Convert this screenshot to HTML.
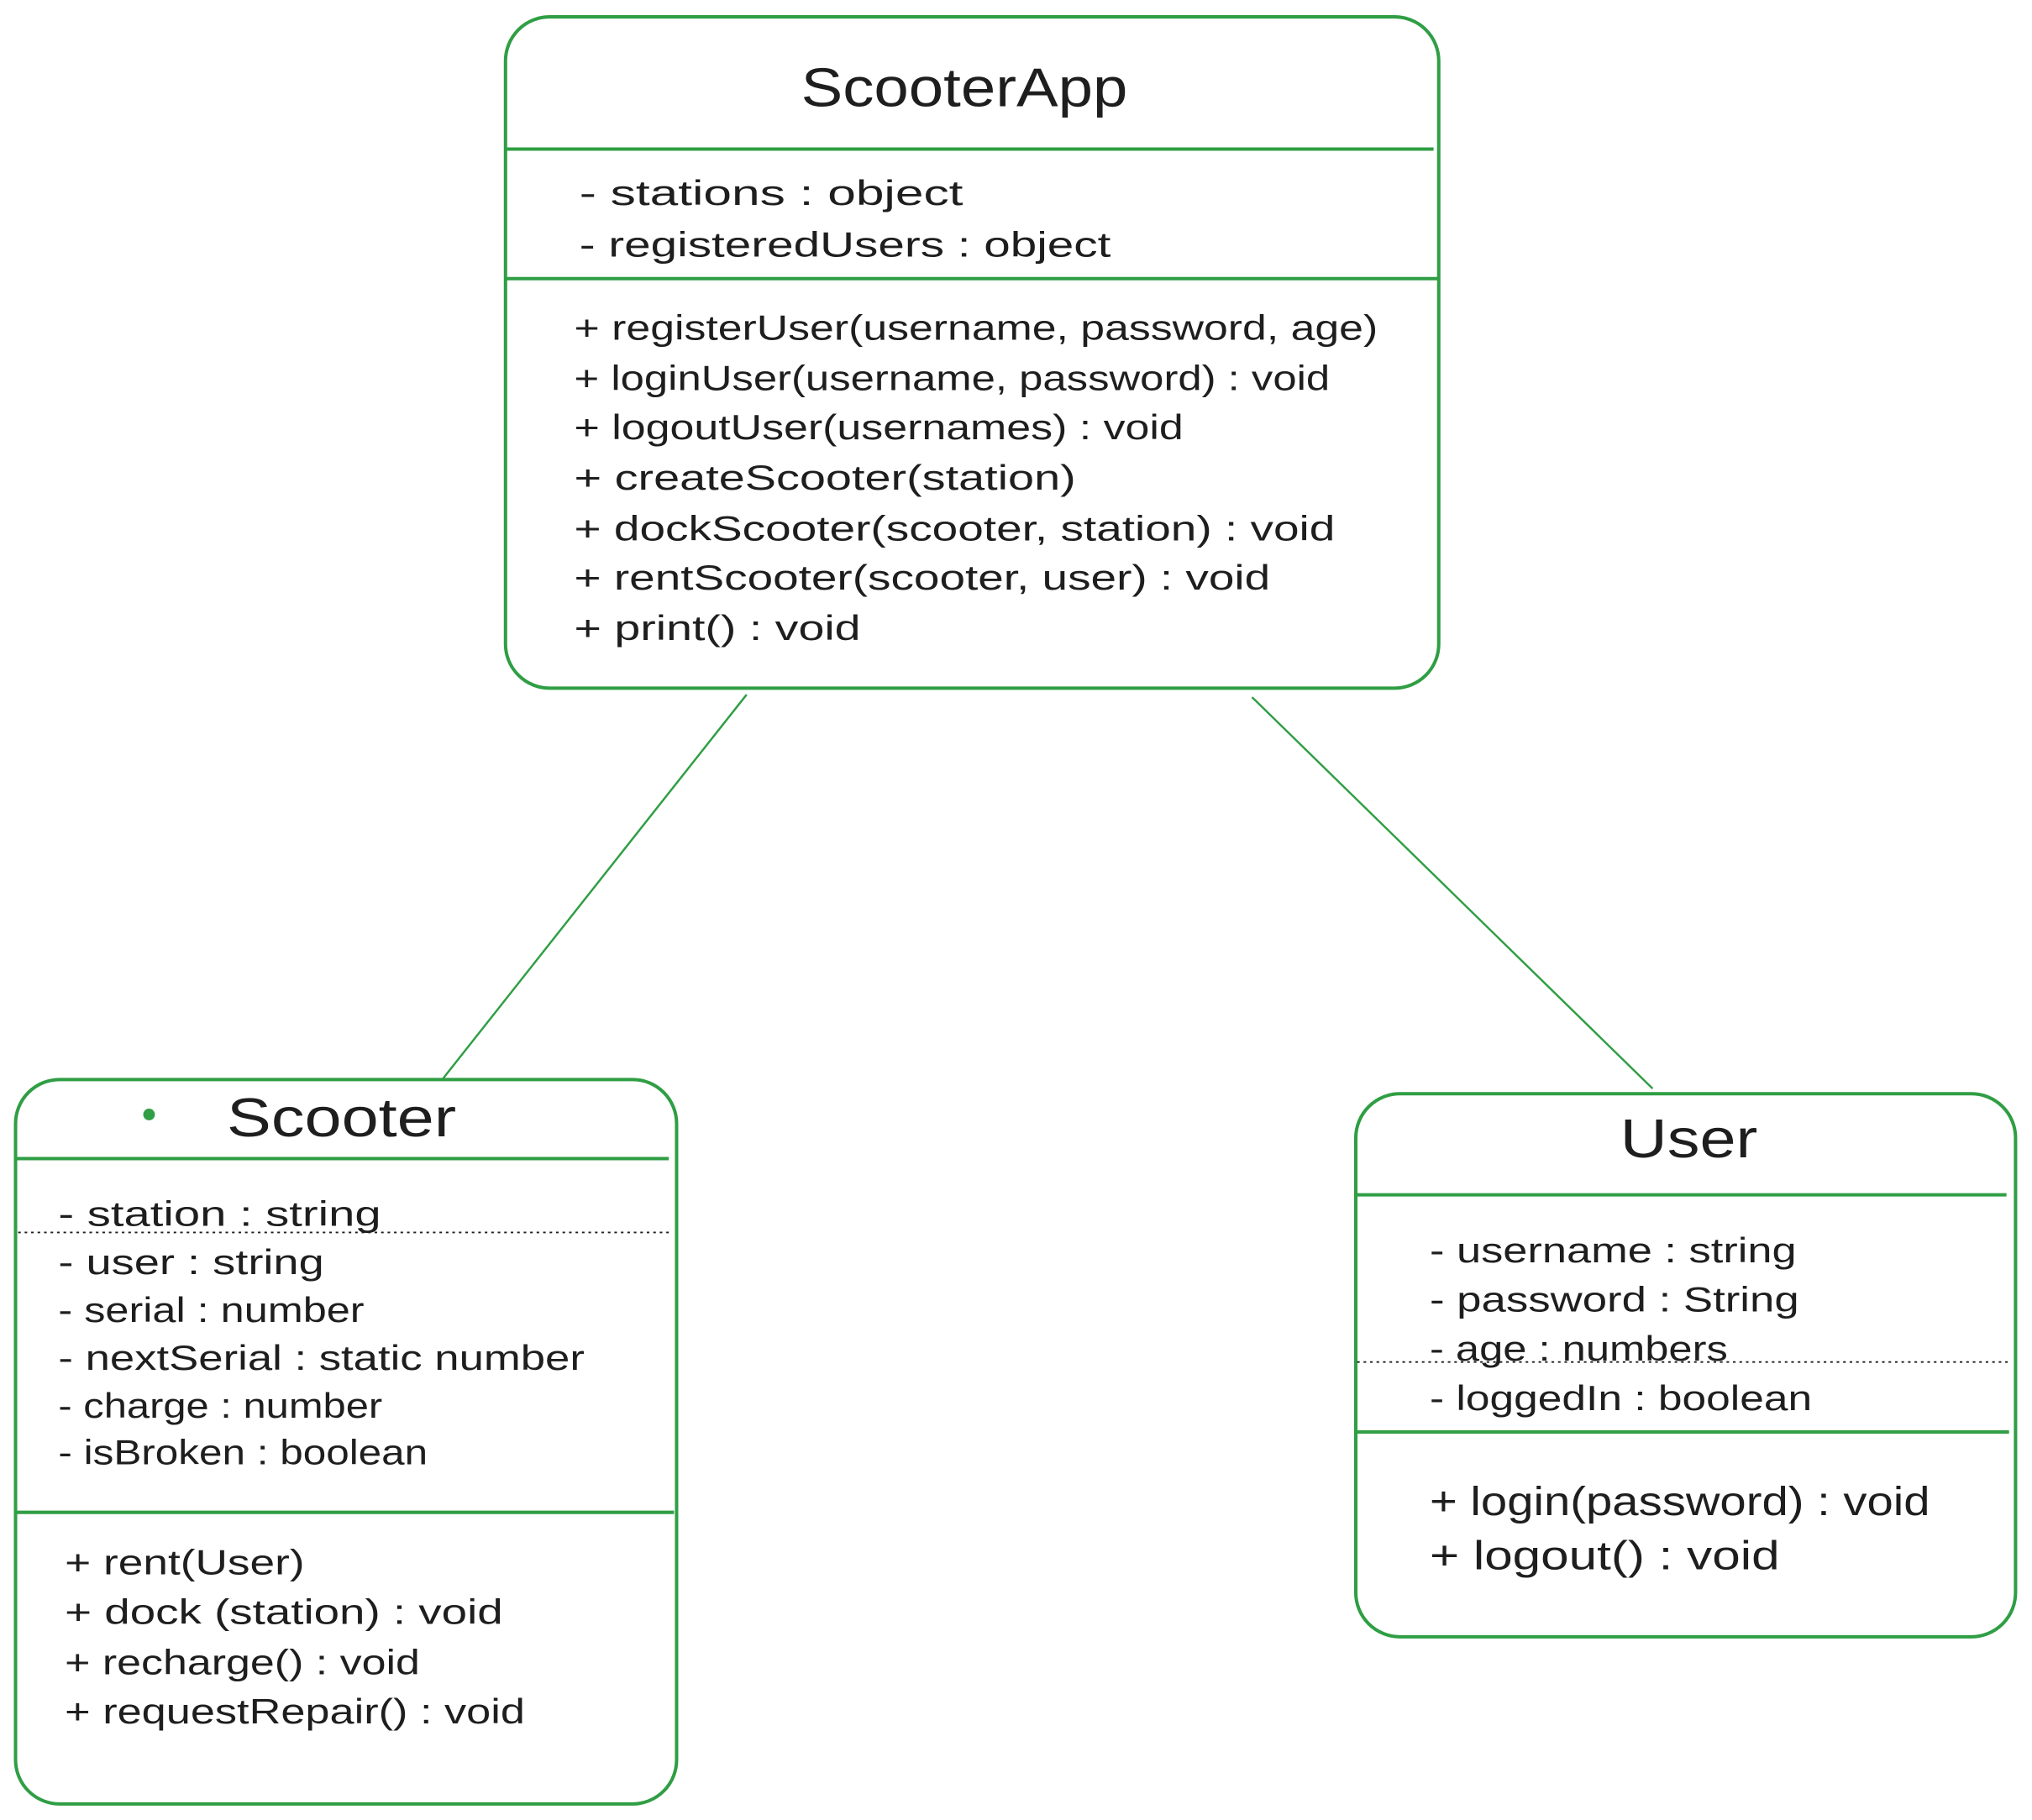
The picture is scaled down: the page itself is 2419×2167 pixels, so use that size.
<!DOCTYPE html>
<html><head><meta charset="utf-8"><style>html,body{margin:0;padding:0;background:#fff}svg{display:block}</style></head>
<body>
<svg width="2419" height="2167" viewBox="0 0 1567.7 1404.4" preserveAspectRatio="none" xmlns="http://www.w3.org/2000/svg">
<g fill="none" stroke="#2f9e44" stroke-width="2.6">
<rect x="390" y="13" width="720" height="518" rx="34"/>
<line x1="391" y1="115" x2="1106" y2="115"/>
<line x1="391" y1="215" x2="1110" y2="215"/>
<rect x="12" y="833" width="510" height="559" rx="34"/>
<line x1="13" y1="894" x2="516" y2="894"/>
<line x1="13" y1="1167" x2="520" y2="1167"/>
<rect x="1046" y="844" width="509" height="419" rx="34"/>
<line x1="1047" y1="922" x2="1548" y2="922"/>
<line x1="1047" y1="1105" x2="1550" y2="1105"/>
<line x1="576" y1="536" x2="342" y2="832" stroke-width="1.6"/>
<line x1="966" y1="538" x2="1275" y2="840" stroke-width="1.6"/>
</g>
<g stroke="#1e1e1e" stroke-width="1.2" stroke-dasharray="2,3">
<line x1="14" y1="951" x2="518" y2="951"/>
<line x1="1047" y1="1051" x2="1552" y2="1051"/>
</g>
<circle cx="115" cy="860" r="4.5" fill="#2f9e44"/>
<g font-family="Liberation Sans, sans-serif" fill="#1e1e1e" font-size="27" lengthAdjust="spacingAndGlyphs">
<text x="618" y="82" font-size="42" textLength="252" lengthAdjust="spacingAndGlyphs">ScooterApp</text>
<text x="447" y="158" textLength="296" lengthAdjust="spacingAndGlyphs">- stations : object</text>
<text x="447" y="198" textLength="410" lengthAdjust="spacingAndGlyphs">- registeredUsers : object</text>
<text x="443" y="262" textLength="620" lengthAdjust="spacingAndGlyphs">+ registerUser(username, password, age)</text>
<text x="443" y="301" textLength="583" lengthAdjust="spacingAndGlyphs">+ loginUser(username, password) : void</text>
<text x="443" y="339" textLength="470" lengthAdjust="spacingAndGlyphs">+ logoutUser(usernames) : void</text>
<text x="443" y="378" textLength="387" lengthAdjust="spacingAndGlyphs">+ createScooter(station)</text>
<text x="443" y="417" textLength="587" lengthAdjust="spacingAndGlyphs">+ dockScooter(scooter, station) : void</text>
<text x="443" y="455" textLength="537" lengthAdjust="spacingAndGlyphs">+ rentScooter(scooter, user) : void</text>
<text x="443" y="494" textLength="221" lengthAdjust="spacingAndGlyphs">+ print() : void</text>

<text x="175" y="877" font-size="42" textLength="177" lengthAdjust="spacingAndGlyphs">Scooter</text>
<text x="45" y="946" textLength="249" lengthAdjust="spacingAndGlyphs">- station : string</text>
<text x="45" y="983" textLength="205" lengthAdjust="spacingAndGlyphs">- user : string</text>
<text x="45" y="1020" textLength="236" lengthAdjust="spacingAndGlyphs">- serial : number</text>
<text x="45" y="1057" textLength="406" lengthAdjust="spacingAndGlyphs">- nextSerial : static number</text>
<text x="45" y="1094" textLength="250" lengthAdjust="spacingAndGlyphs">- charge : number</text>
<text x="45" y="1130" textLength="285" lengthAdjust="spacingAndGlyphs">- isBroken : boolean</text>
<text x="50" y="1215" textLength="185" lengthAdjust="spacingAndGlyphs">+ rent(User)</text>
<text x="50" y="1253" textLength="338" lengthAdjust="spacingAndGlyphs">+ dock (station) : void</text>
<text x="50" y="1292" textLength="274" lengthAdjust="spacingAndGlyphs">+ recharge() : void</text>
<text x="50" y="1330" textLength="355" lengthAdjust="spacingAndGlyphs">+ requestRepair() : void</text>

<text x="1250" y="893" font-size="42" textLength="106" lengthAdjust="spacingAndGlyphs">User</text>
<text x="1103" y="974" textLength="283" lengthAdjust="spacingAndGlyphs">- username : string</text>
<text x="1103" y="1012" textLength="285" lengthAdjust="spacingAndGlyphs">- password : String</text>
<text x="1103" y="1050" textLength="230" lengthAdjust="spacingAndGlyphs">- age : numbers</text>
<text x="1103" y="1088" textLength="295" lengthAdjust="spacingAndGlyphs">- loggedIn : boolean</text>
<text x="1103" y="1169" font-size="31" textLength="386" lengthAdjust="spacingAndGlyphs">+ login(password) : void</text>
<text x="1103" y="1211" font-size="31" textLength="270" lengthAdjust="spacingAndGlyphs">+ logout() : void</text>
</g>
</svg>
</body></html>
